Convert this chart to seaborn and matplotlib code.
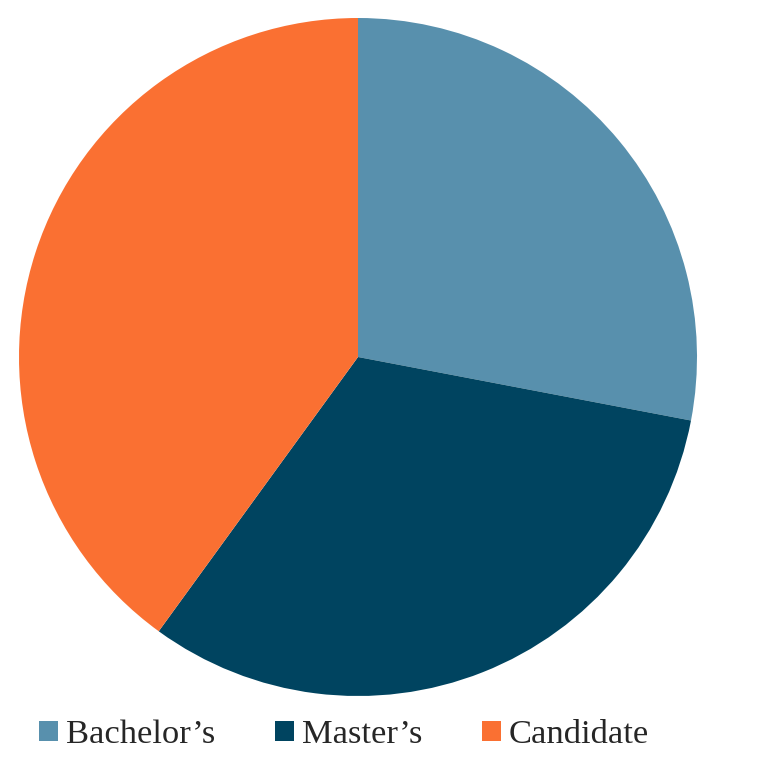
import seaborn as sns
import matplotlib.pyplot as plt
from matplotlib.patches import Patch

sns.set_theme(style="white")
plt.rcParams['font.family'] = ['Liberation Serif', 'DejaVu Serif']

# data
categories = ["Bachelor\u2019s", "Master\u2019s", "Candidate"]
shares = [28, 32, 40]
colors = ["#5890AD", "#004460", "#FA7032"]

fig = plt.figure(figsize=(7.72, 7.6), dpi=100)
ax = fig.add_axes([19 / 772, 64 / 760, 678 / 772, 678 / 760])

ax.pie(shares, colors=colors, startangle=90, counterclock=False,
       radius=1, wedgeprops=dict(linewidth=0))
ax.set_xlim(-1, 1)
ax.set_ylim(-1, 1)
ax.set_aspect("equal")
ax.axis("off")

handles = [Patch(facecolor=c, edgecolor="none") for c in colors]
fig.legend(handles, categories, loc="center", bbox_to_anchor=(344 / 772, 1 - 735 / 760),
           ncol=3, frameon=False, fontsize=24.8, handlelength=0.55, handleheight=0.55,
           handletextpad=0.22, columnspacing=1.75, borderaxespad=0)

plt.savefig("out.png", dpi=100)
plt.close()
